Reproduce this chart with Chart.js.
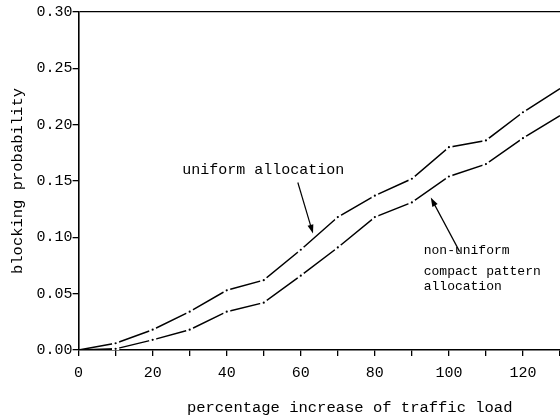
<!DOCTYPE html>
<html>
<head>
<meta charset="utf-8">
<script src="https://cdn.jsdelivr.net/npm/chart.js@4"></script>
<style>
  html, body { margin: 0; padding: 0; background: #fff; overflow: hidden; }
</style>
</head>
<body>
<canvas id="myChart" width="560" height="420"></canvas>
<script>
// traffic load increase (%) and blocking probability
const loads = [0, 10, 20, 30, 40, 50, 60, 70, 80, 90, 100, 110, 120, 130];
const uniform = [0, 0.006, 0.018, 0.034, 0.053, 0.062, 0.089, 0.118, 0.137, 0.152, 0.180, 0.186, 0.211, 0.232];
const nonUniform = [0, 0.001, 0.009, 0.018, 0.034, 0.042, 0.066, 0.091, 0.118, 0.131, 0.154, 0.165, 0.188, 0.208];

const xTitle = 'percentage increase of traffic load';
const yTitle = 'blocking probability';

// labels and arrows, placed in data units
const notes = [
    { lines: ['uniform allocation'], x: 28.0, y: 0.160, size: 15 },
    { lines: ['non-uniform', 'compact pattern', 'allocation'], x: 93.2, y: 0.088, size: 13 }
];
const noteLineGap = [0, 0.0185, 0.0320];
const arrows = [
    { from: [59.2, 0.1487], to: [63.3, 0.1033] },
    { from: [102.9, 0.0873], to: [95.1, 0.1353] }
];

const FONT = "'Courier New', 'Liberation Mono', monospace";

function toPoints(ys) {
    return loads.map((x, i) => ({ x: x, y: ys[i] }));
}

function dotRadius(ctx) {
    const i = ctx.dataIndex;
    return (i === 0 || i === loads.length - 1) ? 0 : 2.4;
}

const notesPlugin = {
    id: 'notes',
    afterDraw(chart) {
        const ctx = chart.ctx;
        const xs = chart.scales.x;
        const ys = chart.scales.y;
        ctx.save();
        ctx.fillStyle = '#000';
        ctx.strokeStyle = '#000';
        ctx.textBaseline = 'middle';
        ctx.textAlign = 'left';

        notes.forEach(n => {
            ctx.font = n.size + 'px ' + FONT;
            n.lines.forEach((t, i) => {
                ctx.fillText(t, xs.getPixelForValue(n.x), ys.getPixelForValue(n.y - noteLineGap[i]));
            });
        });

        arrows.forEach(a => {
            const x1 = xs.getPixelForValue(a.from[0]), y1 = ys.getPixelForValue(a.from[1]);
            const x2 = xs.getPixelForValue(a.to[0]), y2 = ys.getPixelForValue(a.to[1]);
            const ang = Math.atan2(y2 - y1, x2 - x1);
            ctx.lineWidth = 1.2;
            ctx.beginPath();
            ctx.moveTo(x1, y1);
            ctx.lineTo(x2 - 6 * Math.cos(ang), y2 - 6 * Math.sin(ang));
            ctx.stroke();
            ctx.beginPath();
            ctx.moveTo(x2, y2);
            ctx.lineTo(x2 - 9 * Math.cos(ang) + 3 * Math.sin(ang), y2 - 9 * Math.sin(ang) - 3 * Math.cos(ang));
            ctx.lineTo(x2 - 9 * Math.cos(ang) - 3 * Math.sin(ang), y2 - 9 * Math.sin(ang) + 3 * Math.cos(ang));
            ctx.closePath();
            ctx.fill();
        });

        // x axis title sits right of the plot centre in the original
        ctx.font = '15.5px ' + FONT;
        ctx.textAlign = 'center';
        ctx.fillText(xTitle, xs.getPixelForValue(73.2), chart.chartArea.bottom + 58);
        ctx.restore();
    }
};

const commonLine = {
    borderColor: '#000',
    borderWidth: 1.5,
    pointRadius: dotRadius,
    pointBackgroundColor: '#000',
    pointBorderColor: '#fff',
    pointBorderWidth: 2.6,
    fill: false,
    tension: 0
};

const ctx = document.getElementById('myChart').getContext('2d');
const myChart = new Chart(ctx, {
    type: 'line',
    data: {
        datasets: [
            Object.assign({ label: 'uniform allocation', data: toPoints(uniform) }, commonLine),
            Object.assign({ label: 'non-uniform compact pattern allocation', data: toPoints(nonUniform) }, commonLine)
        ]
    },
    options: {
        responsive: false,
        animation: false,
        layout: { autoPadding: false, padding: { left: 9, top: 12, right: 0, bottom: 30 } },
        plugins: {
            legend: { display: false },
            tooltip: { enabled: false }
        },
        scales: {
            x: {
                type: 'linear',
                min: 0,
                max: 130,
                border: { display: true, color: '#000', width: 1.6 },
                grid: { color: 'transparent', tickColor: '#000', tickLength: 6, lineWidth: 1.3 },
                ticks: {
                    stepSize: 10,
                    autoSkip: false,
                    maxRotation: 0,
                    padding: 0,
                    color: '#000',
                    font: { family: FONT, size: 15, lineHeight: '34px' },
                    callback: v => (v % 20 === 0 && v <= 120) ? String(v) : ''
                }
            },
            y: {
                min: 0,
                max: 0.3,
                border: { display: true, color: '#000', width: 1.6 },
                grid: {
                    color: c => Math.abs(c.tick.value - 0.3) < 1e-9 ? '#000' : 'transparent',
                    tickColor: '#000',
                    tickLength: 6,
                    lineWidth: 1.3
                },
                ticks: {
                    stepSize: 0.05,
                    padding: 0,
                    color: '#000',
                    font: { family: FONT, size: 15 },
                    callback: v => v.toFixed(2)
                },
                title: {
                    display: true,
                    text: yTitle,
                    color: '#000',
                    font: { family: FONT, size: 15.5 },
                    padding: { top: 0, bottom: 9 }
                }
            }
        }
    },
    plugins: [notesPlugin]
});
</script>
</body>
</html>
